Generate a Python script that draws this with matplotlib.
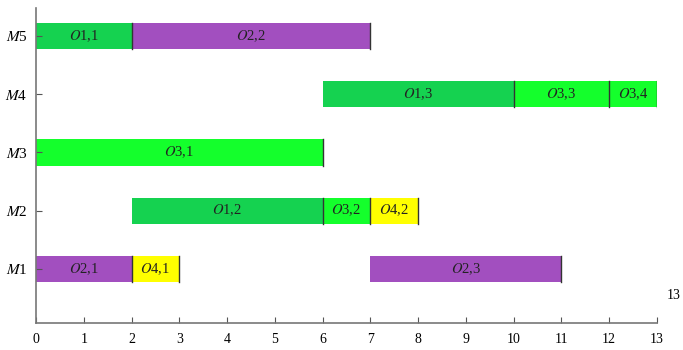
import matplotlib.pyplot as plt

plt.rcParams['font.family'] = 'Liberation Serif'
plt.rcParams['mathtext.fontset'] = 'stix'

machines = ["$M$1", "$M$2", "$M$3", "$M$4", "$M$5"]
# machine index, start, duration, job, label
ops_machine = [1, 1, 1, 2, 2, 2, 3, 4, 4, 4, 5, 5]
ops_start = [0, 2, 7, 2, 6, 7, 0, 6, 10, 12, 0, 2]
ops_dur = [2, 1, 4, 4, 1, 1, 6, 4, 2, 1, 2, 5]
ops_job = [2, 4, 2, 1, 3, 4, 3, 1, 3, 3, 1, 2]
ops_label = ["O2,1", "O4,1", "O2,3", "O1,2", "O3,2", "O4,2",
             "O3,1", "O1,3", "O3,3", "O3,4", "O1,1", "O2,2"]
makespan = 13

job_colors = {1: "#15d250", 2: "#a24fbf", 3: "#14ff2c", 4: "#ffff00"}

fig = plt.figure(figsize=(6.83, 3.5), dpi=100)
ax = fig.add_axes([0.0527, 0.077, 0.909, 0.9])

for m, s, d, j, lab in zip(ops_machine, ops_start, ops_dur, ops_job, ops_label):
    ax.barh(m, d, left=s, height=0.45, color=job_colors[j], edgecolor='none')
    ax.plot([s + d, s + d], [m - 0.225, m + 0.225], color='#333333', lw=1)
    ax.text(s + d / 2, m, "$O$" + lab[1:], ha='center', va='center', fontsize=10.5, color='#222222')

ax.set_xlim(0, 13)
ax.set_ylim(0.07, 5.48)
ax.set_xticks(range(0, 14))
ax.set_yticks(range(1, 6))
ax.set_yticklabels(machines, fontsize=11)
ax.tick_params(axis='x', labelsize=10, direction='in', length=4, pad=7, color='#555555')
ax.tick_params(axis='y', direction='in', length=4, pad=6, color='#555555')
for sp in ['top', 'right']:
    ax.spines[sp].set_visible(False)
for sp in ['left', 'bottom']:
    ax.spines[sp].set_color('#777777')
    ax.spines[sp].set_linewidth(1.2)

ax.text(13.2, 0.54, str(makespan), fontsize=10, ha='left', va='center', clip_on=False)

fig.savefig("out.png", dpi=100)
